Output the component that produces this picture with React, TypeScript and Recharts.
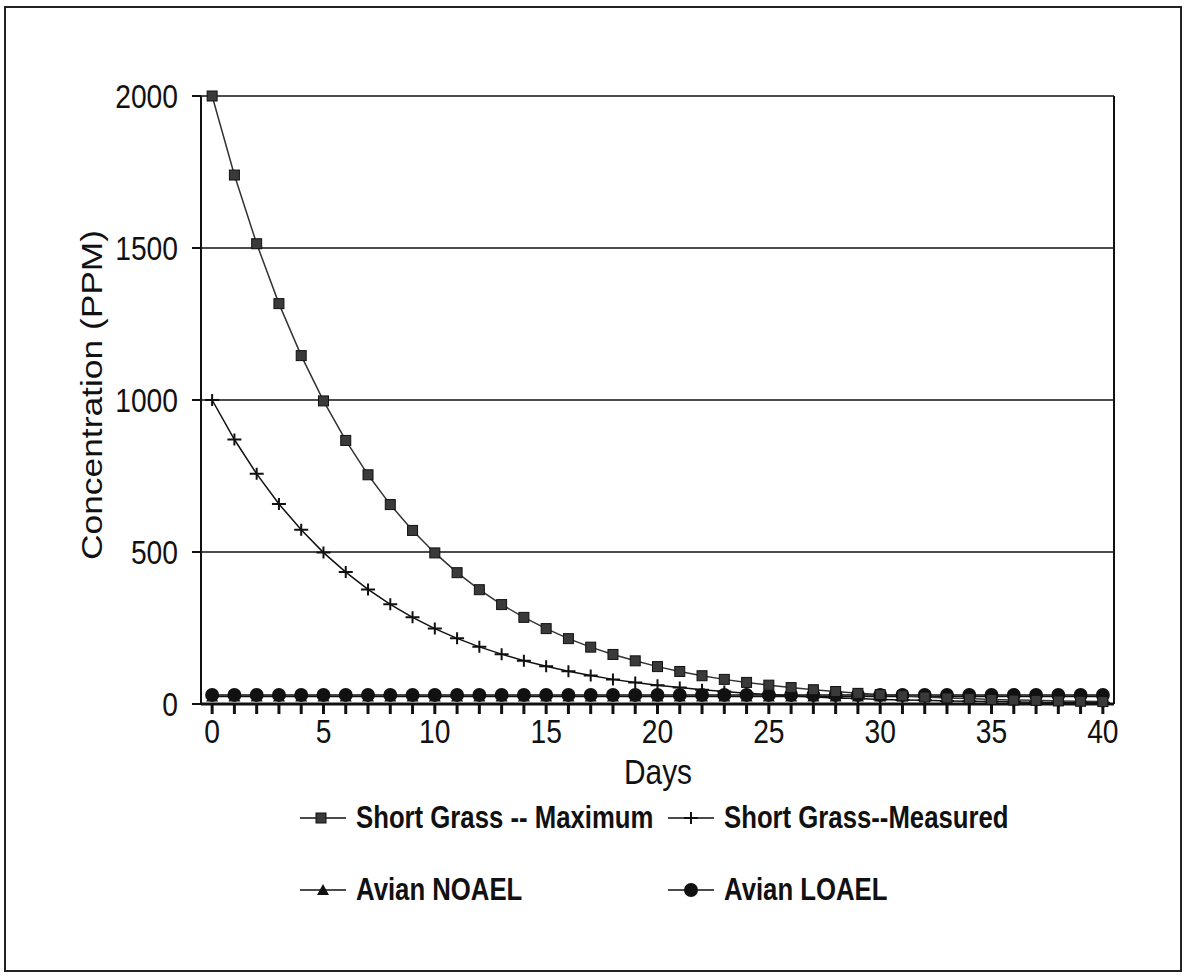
import { LineChart, Line, XAxis, YAxis, CartesianGrid, ReferenceLine } from 'recharts'

const days = [
  0, 1, 2, 3, 4, 5, 6, 7, 8, 9, 10, 11, 12, 13, 14, 15, 16, 17, 18, 19, 20,
  21, 22, 23, 24, 25, 26, 27, 28, 29, 30, 31, 32, 33, 34, 35, 36, 37, 38, 39, 40,
]

const shortGrassMax = [
  2000, 1740, 1514, 1317, 1146, 997, 867, 754, 656, 571, 497, 432, 376, 327, 285, 248,
  215, 187, 163, 142, 123, 107, 93, 81, 71, 62, 54, 47, 41, 35, 31, 27, 23, 20, 18, 15,
  13, 12, 10, 9, 8,
]

const shortGrassMeasured = [
  1000, 870, 757, 658, 573, 498, 434, 377, 328, 285, 248, 216, 188, 164, 142, 124,
  108, 94, 81, 71, 62, 54, 47, 41, 35, 31, 27, 23, 20, 18, 15, 13, 12, 10, 9, 8,
  7, 6, 5, 4, 4,
]

const avianNoael = days.map(() => 25)
const avianLoael = days.map(() => 30)

const yTicks = [0, 500, 1000, 1500, 2000]

const seriesNames = {
  max: 'Short Grass -- Maximum',
  measured: 'Short Grass--Measured',
  noael: 'Avian NOAEL',
  loael: 'Avian LOAEL',
}

const data = days.map((d, i) => ({
  day: d,
  max: shortGrassMax[i],
  measured: shortGrassMeasured[i],
  noael: avianNoael[i],
  loael: avianLoael[i],
}))

const SANS = "'Liberation Sans', Arial, sans-serif"
const INK = '#111'
// the scan squeezes the text sideways, so the plain font is narrowed
const SQUEEZE = 0.83

function Marker({ kind, cx, cy }: { kind: string; cx: number; cy: number }) {
  if (kind === 'max') {
    return <rect x={cx - 5} y={cy - 5} width={10} height={10} fill="#3a3a3a" stroke={INK} strokeWidth={1} />
  }
  if (kind === 'measured') {
    return (
      <path
        d={`M${cx - 7},${cy}H${cx + 7}M${cx},${cy - 6}V${cy + 6}`}
        stroke={INK}
        strokeWidth={2}
        fill="none"
      />
    )
  }
  if (kind === 'noael') {
    return <path d={`M${cx},${cy - 6}L${cx + 6},${cy + 5}L${cx - 6},${cy + 5}Z`} fill={INK} />
  }
  return <circle cx={cx} cy={cy} r={7} fill={INK} />
}

function makeDot(kind: string) {
  return (p: any) => <Marker key={`${kind}-${p.index}`} kind={kind} cx={p.cx} cy={p.cy} />
}

function XTick({ x, y, payload }: any) {
  if (payload.value % 5 !== 0) return <g />
  return (
    <g transform={`translate(${x},${y})`}>
      <text transform={`scale(${SQUEEZE},1)`} textAnchor="middle" dy="0.71em" fontFamily={SANS} fontSize={34} fill={INK}>
        {payload.value}
      </text>
    </g>
  )
}

function YTick({ x, y, payload }: any) {
  return (
    <g transform={`translate(${x},${y})`}>
      <text transform={`scale(${SQUEEZE},1)`} textAnchor="end" dy="0.36em" fontFamily={SANS} fontSize={34} fill={INK}>
        {payload.value}
      </text>
    </g>
  )
}

function XLabel() {
  return (
    <g transform="translate(658,771)">
      <text transform={`scale(${SQUEEZE},1)`} textAnchor="middle" dy="0.36em" fontFamily={SANS} fontSize={36} fill={INK}>
        Days
      </text>
    </g>
  )
}

function YLabel() {
  return (
    <g transform="translate(92,395) rotate(-90)">
      <text transform="scale(1.22,1)" textAnchor="middle" dy="0.36em" fontFamily={SANS} fontSize={29} fill={INK}>
        Concentration (PPM)
      </text>
    </g>
  )
}

function LegendIcon({ kind }: { kind: string }) {
  return (
    <svg width={46} height={16} style={{ marginRight: 10, flex: 'none' }}>
      <line x1={0} y1={8} x2={46} y2={8} stroke={INK} strokeWidth={1.5} />
      <Marker kind={kind} cx={kind === 'max' ? 21 : 23} cy={8} />
    </svg>
  )
}

function ChartLegend() {
  const rows = [
    ['max', 'measured'],
    ['noael', 'loael'],
  ]
  return (
    <div style={{ position: 'absolute', left: 0, top: 800, width: 1185, fontFamily: SANS, fontSize: 31, fontWeight: 700, color: INK }}>
      {rows.map((row, r) => (
        <div key={r} style={{ display: 'flex', paddingLeft: 300, height: 36, marginBottom: r === 0 ? 36 : 0 }}>
          {row.map((k) => (
            <div key={k} style={{ display: 'flex', alignItems: 'center', width: 368, whiteSpace: 'nowrap' }}>
              <LegendIcon kind={k} />
              <span style={{ display: 'inline-block', transform: `scaleX(${SQUEEZE})`, transformOrigin: 'left center' }}>
                {seriesNames[k as keyof typeof seriesNames]}
              </span>
            </div>
          ))}
        </div>
      ))}
    </div>
  )
}

export default function App() {
  return (
    <div style={{ position: 'absolute', left: 0, top: 0, width: 1185, height: 980, background: '#fff' }}>
      <div
        style={{
          position: 'absolute',
          left: 4,
          top: 6,
          width: 1174,
          height: 962,
          border: '2px solid #222',
        }}
      />
      <div style={{ position: 'absolute', left: 0, top: 0 }}>
        <LineChart width={1185} height={980} data={data} margin={{ top: 96, right: 71, left: 0, bottom: 176 }}>
          <CartesianGrid horizontal vertical={false} stroke={INK} strokeWidth={1.5} />
          <XAxis
            dataKey="day"
            type="number"
            domain={[-0.5, 40.5]}
            ticks={days}
            interval={0}
            tickSize={10}
            tickMargin={5}
            height={100}
            stroke={INK}
            strokeWidth={3}
            tick={<XTick />}
            label={{ content: () => <XLabel /> }}
          />
          <YAxis
            domain={[0, 2000]}
            ticks={yTicks}
            width={201}
            tickSize={9}
            tickMargin={14}
            stroke={INK}
            strokeWidth={2}
            tick={<YTick />}
            label={{ content: () => <YLabel /> }}
          />
          <ReferenceLine x={40.5} stroke={INK} strokeWidth={2} />
          <Line
            dataKey="noael"
            name={seriesNames.noael}
            stroke={INK}
            strokeWidth={1.5}
            dot={makeDot('noael')}
            isAnimationActive={false}
          />
          <Line
            dataKey="loael"
            name={seriesNames.loael}
            stroke={INK}
            strokeWidth={1.5}
            dot={makeDot('loael')}
            isAnimationActive={false}
          />
          <Line
            dataKey="measured"
            name={seriesNames.measured}
            stroke={INK}
            strokeWidth={1.5}
            dot={makeDot('measured')}
            isAnimationActive={false}
          />
          <Line
            dataKey="max"
            name={seriesNames.max}
            stroke="#333"
            strokeWidth={1.5}
            dot={makeDot('max')}
            isAnimationActive={false}
          />
        </LineChart>
      </div>
      <ChartLegend />
    </div>
  )
}
